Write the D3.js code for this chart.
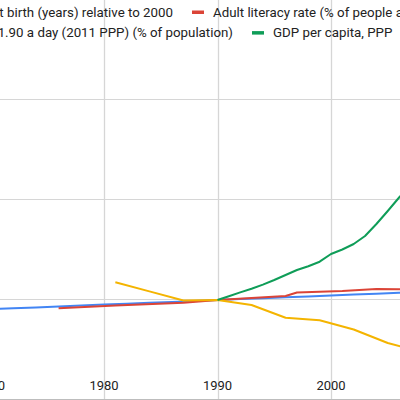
<!DOCTYPE html>
<html>
<head>
<meta charset="utf-8">
<script src="https://cdn.jsdelivr.net/npm/d3@7"></script>
<style>
  html, body { margin: 0; padding: 0; background: #fff; }
  svg { display: block; }
  text { font-family: Roboto, "Noto Sans", sans-serif; }
</style>
</head>
<body>
<div id="graph"></div>
<script>
// values, all relative to 1990 (= 1)
var lifeYears = [1968, 1970, 1972, 1974, 1976, 1978, 1980, 1982, 1984, 1986, 1988, 1990, 1992, 1994, 1996, 1998, 2000, 2002, 2004, 2006, 2008];
var lifeValues = [0.898, 0.908, 0.917, 0.926, 0.935, 0.944, 0.954, 0.963, 0.972, 0.981, 0.991, 1.000, 1.009, 1.018, 1.027, 1.036, 1.045, 1.054, 1.063, 1.073, 1.081];

var literacyYears = [1976, 1981, 1987, 1990, 1996, 1997, 2001, 2004, 2006, 2010];
var literacyValues = [0.917, 0.945, 0.973, 1.000, 1.040, 1.075, 1.090, 1.110, 1.108, 1.115];

var povertyYears = [1981, 1984, 1987, 1990, 1993, 1996, 1999, 2002, 2005, 2008];
var povertyValues = [1.177, 1.086, 0.995, 1.000, 0.950, 0.823, 0.797, 0.705, 0.570, 0.480];

var gdpYears = [1990, 1991, 1992, 1993, 1994, 1995, 1996, 1997, 1998, 1999, 2000, 2001, 2002, 2003, 2004, 2005, 2006, 2007];
var gdpValues = [1.000, 1.038, 1.076, 1.112, 1.154, 1.200, 1.250, 1.300, 1.338, 1.383, 1.460, 1.505, 1.560, 1.640, 1.760, 1.890, 2.025, 2.160];

var legendNames = ["Life expectancy at birth (years) relative to 2000",
                   "Adult literacy rate (% of people ages 15 and above)",
                   "Poverty headcount ratio at $1.90 a day (2011 PPP) (% of population)",
                   "GDP per capita, PPP"];
var colors = ["#4285F4", "#DB4437", "#F4B400", "#0F9D58"];

var xTicks = [1970, 1980, 1990, 2000];
var yGrid = [1, 2, 3];

var width = 400, height = 400;

var series = [
    {years: lifeYears, values: lifeValues},
    {years: literacyYears, values: literacyValues},
    {years: povertyYears, values: povertyValues},
    {years: gdpYears, values: gdpValues}
];

// the chart is a crop of a bigger one, so the scales run past the edges
var x = d3.scaleLinear().domain([1970, 2000]).range([-9.5, 331]);
var y = d3.scaleLinear().domain([0, 4]).range([400, 0]);

var svg = d3.select("#graph").append("svg")
    .attr("width", width)
    .attr("height", height);

// grid
svg.append("g").selectAll("line")
    .data(xTicks)
    .enter().append("line")
    .attr("x1", function(d) { return Math.round(x(d)) + 0.5; })
    .attr("x2", function(d) { return Math.round(x(d)) + 0.5; })
    .attr("y1", 0)
    .attr("y2", height)
    .attr("stroke", "#d6d6d6")
    .attr("stroke-width", 1.3);

svg.append("g").selectAll("line")
    .data(yGrid)
    .enter().append("line")
    .attr("x1", 0)
    .attr("x2", width)
    .attr("y1", function(d) { return Math.round(y(d)) - 0.5; })
    .attr("y2", function(d) { return Math.round(y(d)) - 0.5; })
    .attr("stroke", "#d6d6d6");

// baseline
svg.append("line")
    .attr("x1", 0).attr("x2", width)
    .attr("y1", y(0) - 0.5).attr("y2", y(0) - 0.5)
    .attr("stroke", "#bdbdbd");

// x labels
svg.append("g").selectAll("text")
    .data(xTicks)
    .enter().append("text")
    .attr("x", function(d) { return x(d); })
    .attr("y", 390)
    .attr("text-anchor", "middle")
    .attr("font-size", 13)
    .attr("fill", "#222")
    .text(function(d) { return d; });

// lines
var line = d3.line()
    .x(function(d) { return x(d[0]); })
    .y(function(d) { return y(d[1]); });

series.forEach(function(s, i) {
    var pts = s.years.map(function(yr, j) { return [yr, s.values[j]]; });
    svg.append("path")
        .datum(pts)
        .attr("fill", "none")
        .attr("stroke", colors[i])
        .attr("stroke-width", 2)
        .attr("stroke-linejoin", "round")
        .attr("d", line);
});

// legend, two rows, the left item of each row runs off the left edge
var legendRows = [
    {items: [0, 1], end: 173, base: 16.7},
    {items: [2, 3], end: 233, base: 37.3}
];
legendRows.forEach(function(r) {
    var g = svg.append("g").attr("font-size", 13.3).attr("fill", "#222");
    var first = r.items[0], second = r.items[1];
    g.append("text")
        .attr("x", r.end).attr("y", r.base)
        .attr("text-anchor", "end")
        .text(legendNames[first]);
    var sx = r.end + 19;
    g.append("rect")
        .attr("x", sx).attr("y", r.base - 6.2)
        .attr("width", 12).attr("height", 3.5)
        .attr("fill", colors[second]);
    g.append("text")
        .attr("x", sx + 21).attr("y", r.base)
        .text(legendNames[second]);
});
</script>
</body>
</html>
